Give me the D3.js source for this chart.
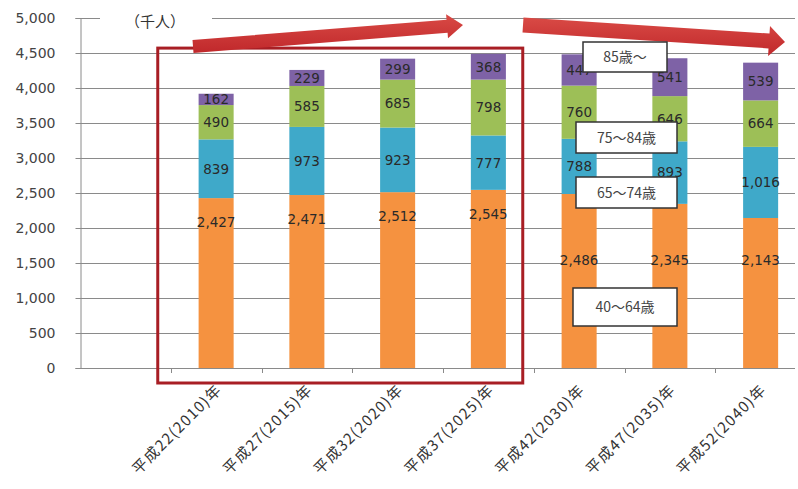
<!DOCTYPE html>
<html><head><meta charset="utf-8">
<script src="https://cdn.jsdelivr.net/npm/d3@7"></script>
<style>
html,body{margin:0;padding:0;background:#fff;}
svg{display:block;}
</style></head>
<body>
<svg id="chart" width="798" height="489"></svg>
<script>
const categories = ["平成22(2010)年","平成27(2015)年","平成32(2020)年","平成37(2025)年","平成42(2030)年","平成47(2035)年","平成52(2040)年"];
const age40to64 = [2427, 2471, 2512, 2545, 2486, 2345, 2143];
const age65to74 = [839, 973, 923, 777, 788, 893, 1016];
const age75to84 = [490, 585, 685, 798, 760, 646, 664];
const age85plus = [162, 229, 299, 368, 447, 541, 539];
const seriesNames = ["40～64歳","65～74歳","75～84歳","85歳～"];
const seriesColors = ["#F59240","#3FA9C9","#9DBF57","#7E62A6"];
const yTicks = [0,500,1000,1500,2000,2500,3000,3500,4000,4500,5000];
const unitLabel = "（千人）";

const svg = d3.select("#chart");
const W = 798, H = 489;
const m = {left:80, top:18, bottom:121};
const plotRight = 795;

const domain = ["__blank__"].concat(categories);
const x = d3.scaleBand().domain(domain).range([m.left, 806]).paddingInner(0.614).paddingOuter(0.307);
const y = d3.scaleLinear().domain([0,5000]).range([H - m.bottom, m.top]);
const step = x.step();

const rows = categories.map((c,i)=>({cat:c, i, a:age40to64[i], b:age65to74[i], c2:age75to84[i], d:age85plus[i]}));
const stack = d3.stack().keys(["a","b","c2","d"])(rows);

// gridlines
svg.append("g").selectAll("line").data(yTicks.filter(t=>t>0)).join("line")
  .attr("x1", m.left).attr("x2", plotRight)
  .attr("y1", d=>Math.round(y(d))+0.5).attr("y2", d=>Math.round(y(d))+0.5)
  .attr("stroke", "#8a8a8a").attr("stroke-width", 1);

// y axis
const yAxis = svg.append("g").attr("transform", `translate(${m.left+0.5},0)`)
  .call(d3.axisLeft(y).tickValues(yTicks).tickFormat(d3.format(",")).tickSize(5).tickPadding(20));
yAxis.select(".domain").attr("stroke","#8a8a8a");
yAxis.selectAll(".tick line").attr("stroke","#8a8a8a");
yAxis.selectAll(".tick text").attr("font-family","DejaVu Sans, sans-serif").attr("font-size", 14).attr("fill","#444");

// x axis line + ticks at band boundaries
svg.append("line").attr("x1", m.left).attr("x2", plotRight)
  .attr("y1", Math.round(y(0))+0.5).attr("y2", Math.round(y(0))+0.5).attr("stroke","#8a8a8a");
const bounds = domain.slice(1).map(c => x(c) + x.bandwidth()/2 - step/2);
svg.append("g").selectAll("line").data(bounds).join("line")
  .attr("x1", d=>Math.round(d)+0.5).attr("x2", d=>Math.round(d)+0.5)
  .attr("y1", y(0)).attr("y2", y(0)+5).attr("stroke","#8a8a8a");

// bars
svg.append("g").selectAll("g").data(stack).join("g")
  .attr("fill", (d,k)=>seriesColors[k])
  .selectAll("rect").data(d=>d).join("rect")
  .attr("x", d=>x(d.data.cat)).attr("width", x.bandwidth())
  .attr("y", d=>y(d[1])).attr("height", d=>y(d[0])-y(d[1]));

// data labels
const fmt = d3.format(",");
const lbl = svg.append("g").attr("font-family","DejaVu Sans, sans-serif").attr("font-size",13.5)
  .attr("fill","#2a2a2a").attr("text-anchor","middle");
stack.forEach((s,k)=>{
  s.forEach(d=>{
    const v = d[1]-d[0];
    let cy;
    if (k===0) cy = d.data.i < 4 ? y(d[1]) + 24 : y(1540);
    else cy = (y(d[0])+y(d[1]))/2;
    lbl.append("text").attr("x", x(d.data.cat)+x.bandwidth()/2).attr("y", cy)
      .attr("dy","0.36em").text(fmt(v));
  });
});

// x labels
svg.append("g").selectAll("text").data(categories).join("text")
  .attr("transform", d=>`translate(${x(d)+x.bandwidth()/2+3},${y(0)+19}) rotate(-45)`)
  .attr("text-anchor","end").attr("dy","0.35em")
  .attr("font-family","Noto Sans CJK JP, sans-serif").attr("font-size",15).attr("letter-spacing","1.3px")
  .attr("fill","#333")
  .text(d=>d);

// unit label with white box
svg.append("rect").attr("x", 100).attr("y", 4).attr("width", 112).attr("height", 32).attr("fill","#fff");
svg.append("text").attr("x", 155).attr("y", 27).attr("text-anchor","middle")
  .attr("font-family","Noto Sans CJK JP, sans-serif").attr("font-size",15).attr("fill","#333").text(unitLabel);

// red box
const bx0 = bounds[0] - 13, bx1 = bounds[4] - 11;
svg.append("rect").attr("x", bx0).attr("y", y(4570)).attr("width", bx1-bx0).attr("height", y(0)+15-y(4570))
  .attr("fill","none").attr("stroke","#A81E24").attr("stroke-width",3);

// arrows
function blockArrow(x0,y0,x1,y1,sh,hh,hl){
  const L = Math.hypot(x1-x0,y1-y0), a = Math.atan2(y1-y0,x1-x0);
  const pts = [[0,-sh],[L-hl,-sh],[L-hl,-hh],[L,0],[L-hl,hh],[L-hl,sh],[0,sh]];
  return "M" + pts.map(([u,v])=>[x0+u*Math.cos(a)-v*Math.sin(a), y0+u*Math.sin(a)+v*Math.cos(a)].map(n=>n.toFixed(1)).join(",")).join("L") + "Z";
}
const defs = svg.append("defs");
const gr = defs.append("linearGradient").attr("id","ag").attr("x1","0").attr("y1","0").attr("x2","0").attr("y2","1");
gr.append("stop").attr("offset","0").attr("stop-color","#D94A45");
gr.append("stop").attr("offset","1").attr("stop-color","#C0282B");
svg.append("path").attr("d", blockArrow(193, 46.5, 463, 25, 6.5, 12, 16)).attr("fill","url(#ag)");
svg.append("path").attr("d", blockArrow(523, 25, 785, 42, 7.5, 15, 16)).attr("fill","url(#ag)");

// series boxes
const boxes = [
  {name:seriesNames[3], x:583, y:42, w:84, h:30},
  {name:seriesNames[2], x:576, y:122, w:101, h:31},
  {name:seriesNames[1], x:576, y:177, w:101, h:31},
  {name:seriesNames[0], x:573, y:288, w:104, h:38}
];
const bg = svg.append("g").selectAll("g").data(boxes).join("g");
bg.append("rect").attr("x",d=>d.x).attr("y",d=>d.y).attr("width",d=>d.w).attr("height",d=>d.h)
  .attr("fill","#fff").attr("stroke","#333").attr("stroke-width",1.5);
bg.append("text").attr("x",d=>d.x+d.w/2).attr("y",d=>d.y+d.h/2).attr("dy","0.36em").attr("text-anchor","middle")
  .attr("font-family","Noto Sans CJK JP, sans-serif").attr("font-size",14).attr("fill","#444").text(d=>d.name);
</script>
</body></html>
